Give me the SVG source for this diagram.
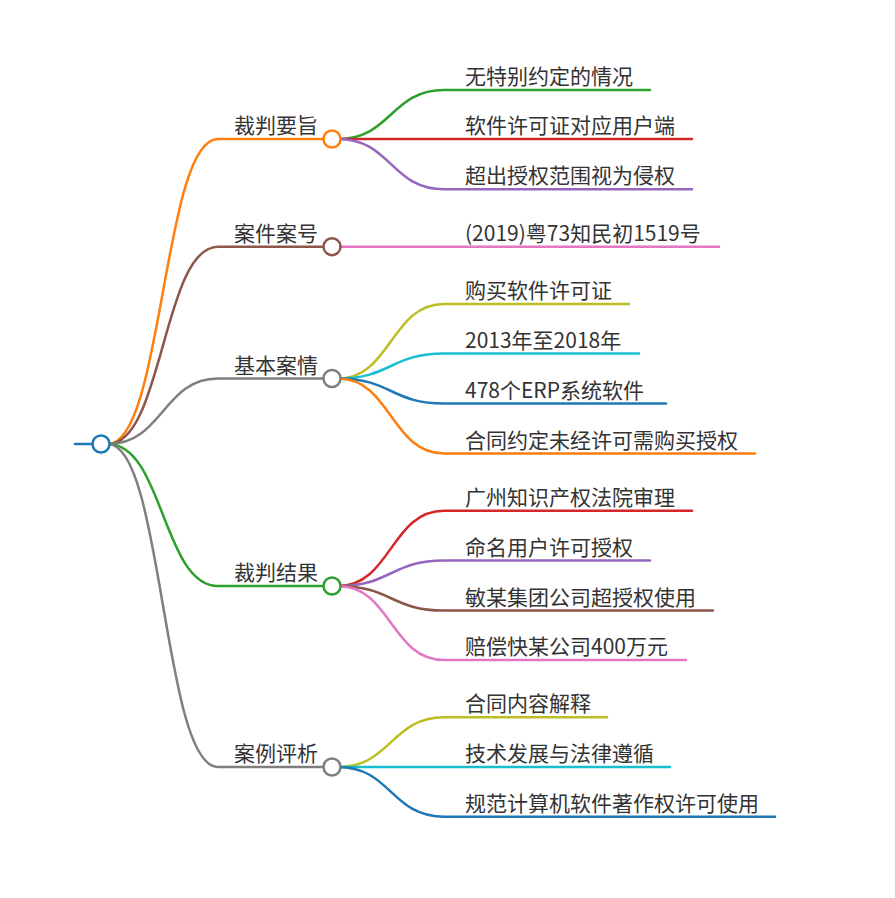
<svg xmlns="http://www.w3.org/2000/svg" width="895" height="898" viewBox="0 0 895 898">
<style>
  .l { fill: none; stroke-width: 2.5; stroke-linecap: round; }
  .n { fill: #ffffff; stroke-width: 2.5; }
  text { font-family: "Noto Sans CJK SC", "Noto Sans", sans-serif; font-size: 21px; fill: #333333; }
  .e { text-anchor: end; }
</style>
<rect width="895" height="898" fill="#ffffff"/>
<g id="connectors">
  <path class="l" stroke="#1f77b4" d="M75,444 L92,444"/>
  <!-- level 1 -->
  <path class="l" stroke="#ff7f0e" d="M108,444 C163,444 163,139 218,139 L324,139"/>
  <path class="l" stroke="#8c564b" d="M108,444 C163,444 163,246.7 218,246.7 L324,246.7"/>
  <path class="l" stroke="#7f7f7f" d="M108,444 C163,444 163,378.5 218,378.5 L324,378.5"/>
  <path class="l" stroke="#2ca02c" d="M108,444 C163,444 163,586 218,586 L324,586"/>
  <path class="l" stroke="#7f7f7f" d="M108,444 C163,444 163,767 218,767 L324,767"/>
  <!-- 裁判要旨 -->
  <path class="l" stroke="#2ca02c" d="M338,139 C391,139 391,90 444,90 L650,90"/>
  <path class="l" stroke="#d62728" d="M338,139 L692,139"/>
  <path class="l" stroke="#9467bd" d="M338,139 C391,139 391,189.3 444,189.3 L692,189.3"/>
  <!-- 案件案号 -->
  <path class="l" stroke="#e377c2" d="M338,246.7 L719,246.7"/>
  <!-- 基本案情 -->
  <path class="l" stroke="#bcbd22" d="M338,378.5 C391,378.5 391,304 444,304 L629,304"/>
  <path class="l" stroke="#17becf" d="M338,378.5 C391,378.5 391,353.5 444,353.5 L639,353.5"/>
  <path class="l" stroke="#1f77b4" d="M338,378.5 C391,378.5 391,403.5 444,403.5 L666,403.5"/>
  <path class="l" stroke="#ff7f0e" d="M338,378.5 C391,378.5 391,453.5 444,453.5 L755,453.5"/>
  <!-- 裁判结果 -->
  <path class="l" stroke="#d62728" d="M338,586 C391,586 391,510.7 444,510.7 L692,510.7"/>
  <path class="l" stroke="#9467bd" d="M338,586 C391,586 391,560.5 444,560.5 L650,560.5"/>
  <path class="l" stroke="#8c564b" d="M338,586 C391,586 391,610.5 444,610.5 L713,610.5"/>
  <path class="l" stroke="#e377c2" d="M338,586 C391,586 391,660 444,660 L686,660"/>
  <!-- 案例评析 -->
  <path class="l" stroke="#bcbd22" d="M338,767 C391,767 391,717.3 444,717.3 L607,717.3"/>
  <path class="l" stroke="#17becf" d="M338,767 L670,767"/>
  <path class="l" stroke="#1f77b4" d="M338,767 C391,767 391,816.7 444,816.7 L775,816.7"/>
</g>
<g id="root"><circle class="n" cx="101" cy="444" r="8.5" stroke="#1f77b4"/></g>
<g id="n1"><text class="e" x="318" y="133">裁判要旨</text><circle class="n" cx="332" cy="139" r="8.5" stroke="#ff7f0e"/></g>
<g id="n1a"><text x="465" y="84">无特别约定的情况</text></g>
<g id="n1b"><text x="465" y="133">软件许可证对应用户端</text></g>
<g id="n1c"><text x="465" y="183.3">超出授权范围视为侵权</text></g>
<g id="n2"><text class="e" x="318" y="240.7">案件案号</text><circle class="n" cx="332" cy="246.7" r="8.5" stroke="#8c564b"/></g>
<g id="n2a"><text x="465" y="240.7">(2019)粤73知民初1519号</text></g>
<g id="n3"><text class="e" x="318" y="372.5">基本案情</text><circle class="n" cx="332" cy="378.5" r="8.5" stroke="#7f7f7f"/></g>
<g id="n3a"><text x="465" y="298">购买软件许可证</text></g>
<g id="n3b"><text x="465" y="347.5">2013年至2018年</text></g>
<g id="n3c"><text x="465" y="397.5">478个ERP系统软件</text></g>
<g id="n3d"><text x="465" y="447.5">合同约定未经许可需购买授权</text></g>
<g id="n4"><text class="e" x="318" y="580">裁判结果</text><circle class="n" cx="332" cy="586" r="8.5" stroke="#2ca02c"/></g>
<g id="n4a"><text x="465" y="504.7">广州知识产权法院审理</text></g>
<g id="n4b"><text x="465" y="554.5">命名用户许可授权</text></g>
<g id="n4c"><text x="465" y="604.5">敏某集团公司超授权使用</text></g>
<g id="n4d"><text x="465" y="654">赔偿快某公司400万元</text></g>
<g id="n5"><text class="e" x="318" y="761">案例评析</text><circle class="n" cx="332" cy="767" r="8.5" stroke="#7f7f7f"/></g>
<g id="n5a"><text x="465" y="711.3">合同内容解释</text></g>
<g id="n5b"><text x="465" y="761">技术发展与法律遵循</text></g>
<g id="n5c"><text x="465" y="810.7">规范计算机软件著作权许可使用</text></g>
</svg>
